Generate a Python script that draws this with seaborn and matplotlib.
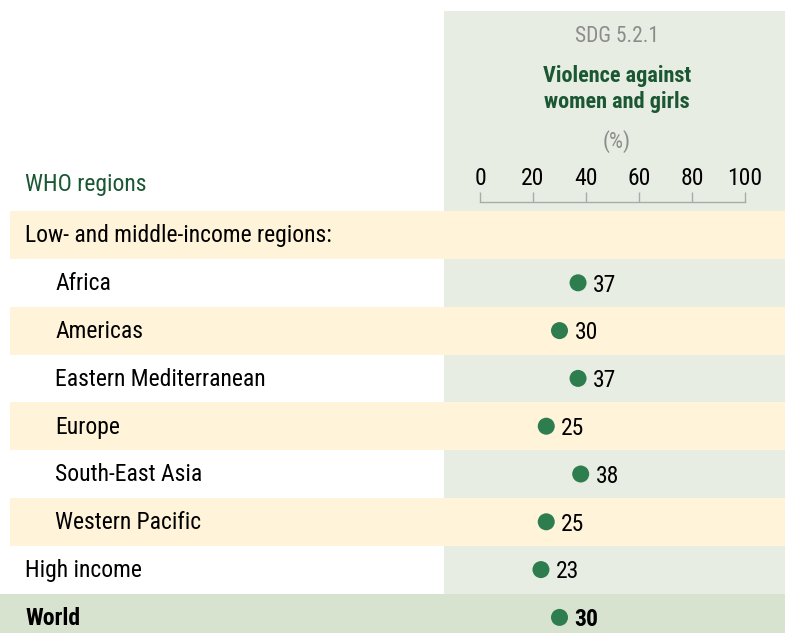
import matplotlib
matplotlib.use('Agg')
import matplotlib.pyplot as plt
import matplotlib.font_manager as fm
import pandas as pd
import seaborn as sns

# rows of the table, top to bottom
regions = ['Low- and middle-income regions:', 'Africa', 'Americas', 'Eastern Mediterranean',
           'Europe', 'South-East Asia', 'Western Pacific', 'High income', 'World']
indented = [False, True, True, True, True, True, True, False, False]
values = [None, 37, 30, 37, 25, 38, 25, 23, 30]
ticks = [0, 20, 40, 60, 80, 100]

W, H = 785, 633
ROW0, ROWH = 235, 47.8          # pixel centre of first row, row height
X0, X100 = 480, 745             # pixel positions of 0 and 100 on the scale

PANEL = '#e8ede3'
YELLOW = '#fff4d9'
WORLD = '#d8e3cf'
DOT = '#2e7d4f'
DARKGREEN = '#1b5733'
GREY = '#8c8c8c'

sns.set_style('white')

# look for a narrow face; the original uses a condensed typeface
cond = []
for f in fm.fontManager.ttflist:
    st = str(f.stretch).lower()
    if 'condensed' in st or 'narrow' in f.name.lower() or 'condensed' in f.name.lower():
        cond.append((f.name, st))
FONT, STRETCH = 'DejaVu Sans', 'normal'
for pref in ['Liberation Sans Narrow', 'Roboto Condensed', 'Open Sans Condensed',
             'DejaVu Sans', 'Noto Sans', 'Roboto', 'Open Sans']:
    hits = [c for c in cond if c[0] == pref]
    if hits:
        FONT, STRETCH = pref, hits[0][1]
        break
else:
    if cond:
        FONT, STRETCH = cond[0]
narrow = FONT != 'DejaVu Sans' or STRETCH != 'normal'
plt.rcParams['font.family'] = [FONT, 'DejaVu Sans']
plt.rcParams['font.stretch'] = STRETCH if 'condensed' in STRETCH else 'normal'
FS = 17 if narrow else 13

fig = plt.figure(figsize=(W / 100, H / 100), dpi=100)
ax = fig.add_axes([0, 0, 1, 1])

px_per = (X100 - X0) / 100
ax.set_xlim(-X0 / px_per, (W - X0) / px_per)
ax.set_ylim((H - ROW0) / ROWH, -ROW0 / ROWH)
ax.axis('off')


def fx(px):
    return (px - X0) / px_per


def fy(py):
    return (py - ROW0) / ROWH


# backgrounds
ax.add_patch(plt.Rectangle((fx(444), fy(11)), fx(W) - fx(444), fy(H) - fy(11),
                           color=PANEL, zorder=0, lw=0))
for i, name in enumerate(regions):
    if name == 'World':
        ax.axhspan(i - 0.5, i + 0.5, color=WORLD, zorder=1, lw=0)
    elif i % 2 == 0 and i < 7:
        ax.axhspan(i - 0.5, i + 0.5, xmin=10 / W, xmax=1, color=YELLOW, zorder=1, lw=0)

# row labels
trans = ax.get_yaxis_transform()
for i, name in enumerate(regions):
    x = 55 / W if indented[i] else 25 / W
    ax.text(x, i + 0.02, name, transform=trans, ha='left', va='center', fontsize=FS,
            fontweight='bold' if name == 'World' else 'normal', color='black', zorder=3)

# dots
df = pd.DataFrame({'region': regions, 'value': values, 'row': range(len(regions))}).dropna()
sns.scatterplot(data=df, x='value', y='row', ax=ax, color=DOT, s=150, edgecolor='none',
                zorder=4, legend=False)
for _, r in df.iterrows():
    ax.text(r['value'] + 15 / px_per, r['row'] + 0.05, f"{int(r['value'])}", ha='left',
            va='center', fontsize=FS, color='black',
            fontweight='bold' if r['region'] == 'World' else 'normal', zorder=4)

# header texts
cx = fx(617)
ax.text(cx, fy(37), 'SDG 5.2.1', ha='center', va='center', fontsize=FS - 1.5, color=GREY)
ax.text(cx, fy(89), 'Violence against\nwomen and girls', ha='center', va='center',
        fontsize=FS - 1, fontweight='bold', color=DARKGREEN, linespacing=1.25)
ax.text(cx, fy(142), '(%)', ha='center', va='center', fontsize=FS - 1, color=GREY)
ax.text(25 / W, fy(185), 'WHO regions', transform=trans, ha='left', va='center',
        fontsize=FS, color=DARKGREEN)

# scale axis
sax = fig.add_axes([X0 / W, (H - 203) / H, (X100 - X0) / W, 0.001])
sax.set_xlim(0, 100)
sax.set_facecolor('none')
sax.set_yticks([])
sax.set_xticks(ticks)
sax.xaxis.set_ticks_position('top')
sax.tick_params(axis='x', direction='out', length=7, width=1, color='#aaaaaa',
                labelsize=FS, labelcolor='black', pad=2)
for side in ['left', 'right', 'bottom']:
    sax.spines[side].set_visible(False)
sax.spines['top'].set_color('#aaaaaa')
sax.spines['top'].set_linewidth(1)

fig.savefig('out.png', dpi=100)
